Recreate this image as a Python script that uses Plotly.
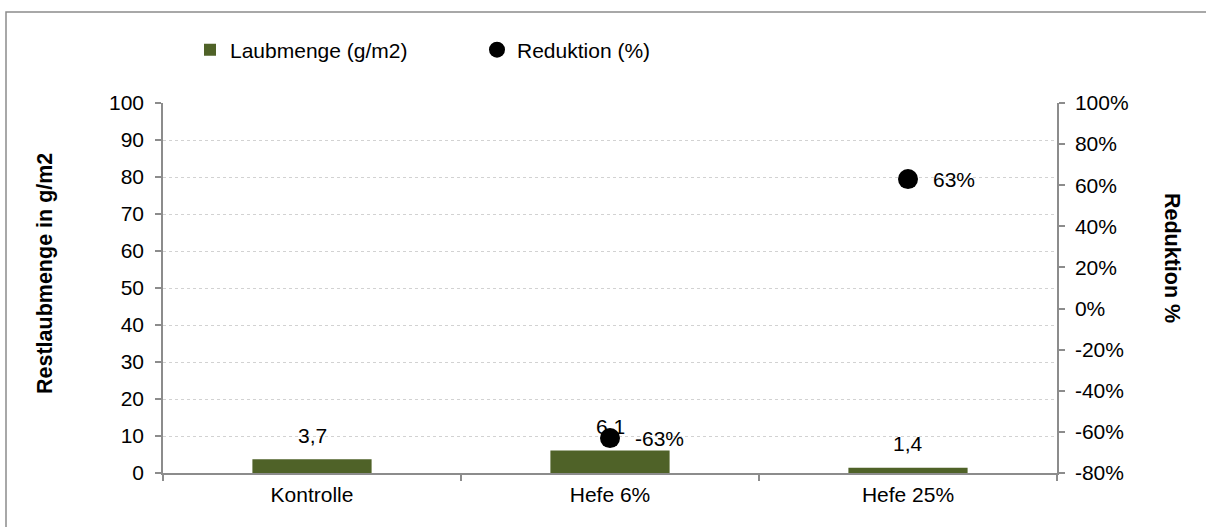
import plotly.graph_objects as go

# Remaining leaf mass per treatment and the resulting reduction
categories = ["Kontrolle", "Hefe 6%", "Hefe 25%"]
laubmenge = [3.7, 6.1, 1.4]
reduktion_cats = ["Hefe 6%", "Hefe 25%"]
reduktion = [-0.63, 0.63]

left_ticks = list(range(0, 101, 10))
right_ticks = [-0.8, -0.6, -0.4, -0.2, 0.0, 0.2, 0.4, 0.6, 0.8, 1.0]
right_ticktext = [f"{round(v * 100)}%" for v in right_ticks]

W, H = 1206, 527
ML, MR, MT, MB = 163, 149, 103, 54
PW, PH = W - ML - MR, H - MT - MB

def px_x(p):
    return (p - ML) / PW

def px_y(p):
    return (H - MB - p) / PH

FONT = "Liberation Sans, Arial, sans-serif"
FS = 21
GREEN = "#4F6228"
AXIS = "#8c8c8c"

fig = go.Figure()

fig.add_trace(go.Bar(
    x=categories, y=laubmenge, name="Laubmenge (g/m2)",
    marker=dict(color=GREEN, line=dict(width=0)),
    yaxis="y",
))

fig.add_trace(go.Scatter(
    x=reduktion_cats, y=reduktion, name="Reduktion (%)",
    mode="markers",
    marker=dict(color="black", size=20),
    yaxis="y2", cliponaxis=False,
))

# value labels above the bars
for c, v in zip(categories, laubmenge):
    fig.add_annotation(
        x=c, y=v, xref="x", yref="y",
        text=f"{v:.1f}".replace(".", ","),
        showarrow=False, yshift=24,
        font=dict(family=FONT, size=FS, color="black"),
    )

# percentage labels to the right of the reduction markers
for c, v in zip(reduktion_cats, reduktion):
    fig.add_annotation(
        x=c, y=v, xref="x", yref="y2",
        text=f"{round(v * 100)}%",
        showarrow=False, xanchor="left", xshift=23,
        font=dict(family=FONT, size=FS, color="black"),
    )

# axis titles
fig.add_annotation(
    x=px_x(45), y=px_y(274), xref="paper", yref="paper",
    xanchor="center", yanchor="middle",
    text="<b>Restlaubmenge in g/m2</b>", textangle=-90, showarrow=False,
    font=dict(family=FONT, size=21.5, color="black"),
)
fig.add_annotation(
    x=px_x(1172), y=px_y(258), xref="paper", yref="paper",
    xanchor="center", yanchor="middle",
    text="<b>Reduktion %</b>", textangle=90, showarrow=False,
    font=dict(family=FONT, size=21.5, color="black"),
)

# outer chart frame
fig.add_shape(
    type="rect", xref="paper", yref="paper",
    x0=px_x(6), x1=px_x(1215), y0=px_y(535), y1=px_y(12),
    line=dict(color=AXIS, width=1.5), fillcolor="rgba(0,0,0,0)", layer="below",
)

fig.update_layout(
    width=W, height=H,
    margin=dict(l=ML, r=MR, t=MT, b=MB, autoexpand=False),
    paper_bgcolor="white", plot_bgcolor="white",
    font=dict(family=FONT, size=FS, color="black"),
    bargap=0.6,
    showlegend=True,
    legend=dict(
        orientation="h", x=px_x(190), y=px_y(50), xanchor="left", yanchor="middle",
        font=dict(family=FONT, size=FS, color="black"),
        entrywidth=242, itemwidth=30, traceorder="normal",
        bgcolor="rgba(0,0,0,0)",
    ),
    xaxis=dict(
        type="category", categoryorder="array", categoryarray=categories,
        showline=True, linecolor=AXIS, linewidth=1.5,
        ticks="outside", tickson="boundaries", ticklen=6, tickcolor=AXIS, tickwidth=1.5,
        showgrid=False, tickfont=dict(family=FONT, size=FS),
        ticklabelstandoff=2,
    ),
    yaxis=dict(
        range=[0, 100], tickvals=left_ticks,
        showline=True, linecolor=AXIS, linewidth=1.5,
        ticks="outside", ticklen=6, tickcolor=AXIS, tickwidth=1.5,
        showgrid=True, gridcolor="#d2d2d2", griddash="dot", gridwidth=1,
        zeroline=False, tickfont=dict(family=FONT, size=FS),
        ticklabelstandoff=7,
    ),
    yaxis2=dict(
        range=[-0.8, 1.0], tickvals=right_ticks, ticktext=right_ticktext,
        overlaying="y", side="right",
        showline=True, linecolor=AXIS, linewidth=1.5,
        ticks="outside", ticklen=6, tickcolor=AXIS, tickwidth=1.5,
        showgrid=False, zeroline=False, tickfont=dict(family=FONT, size=FS),
        ticklabelstandoff=6,
    ),
)

fig.write_html("out.html")
